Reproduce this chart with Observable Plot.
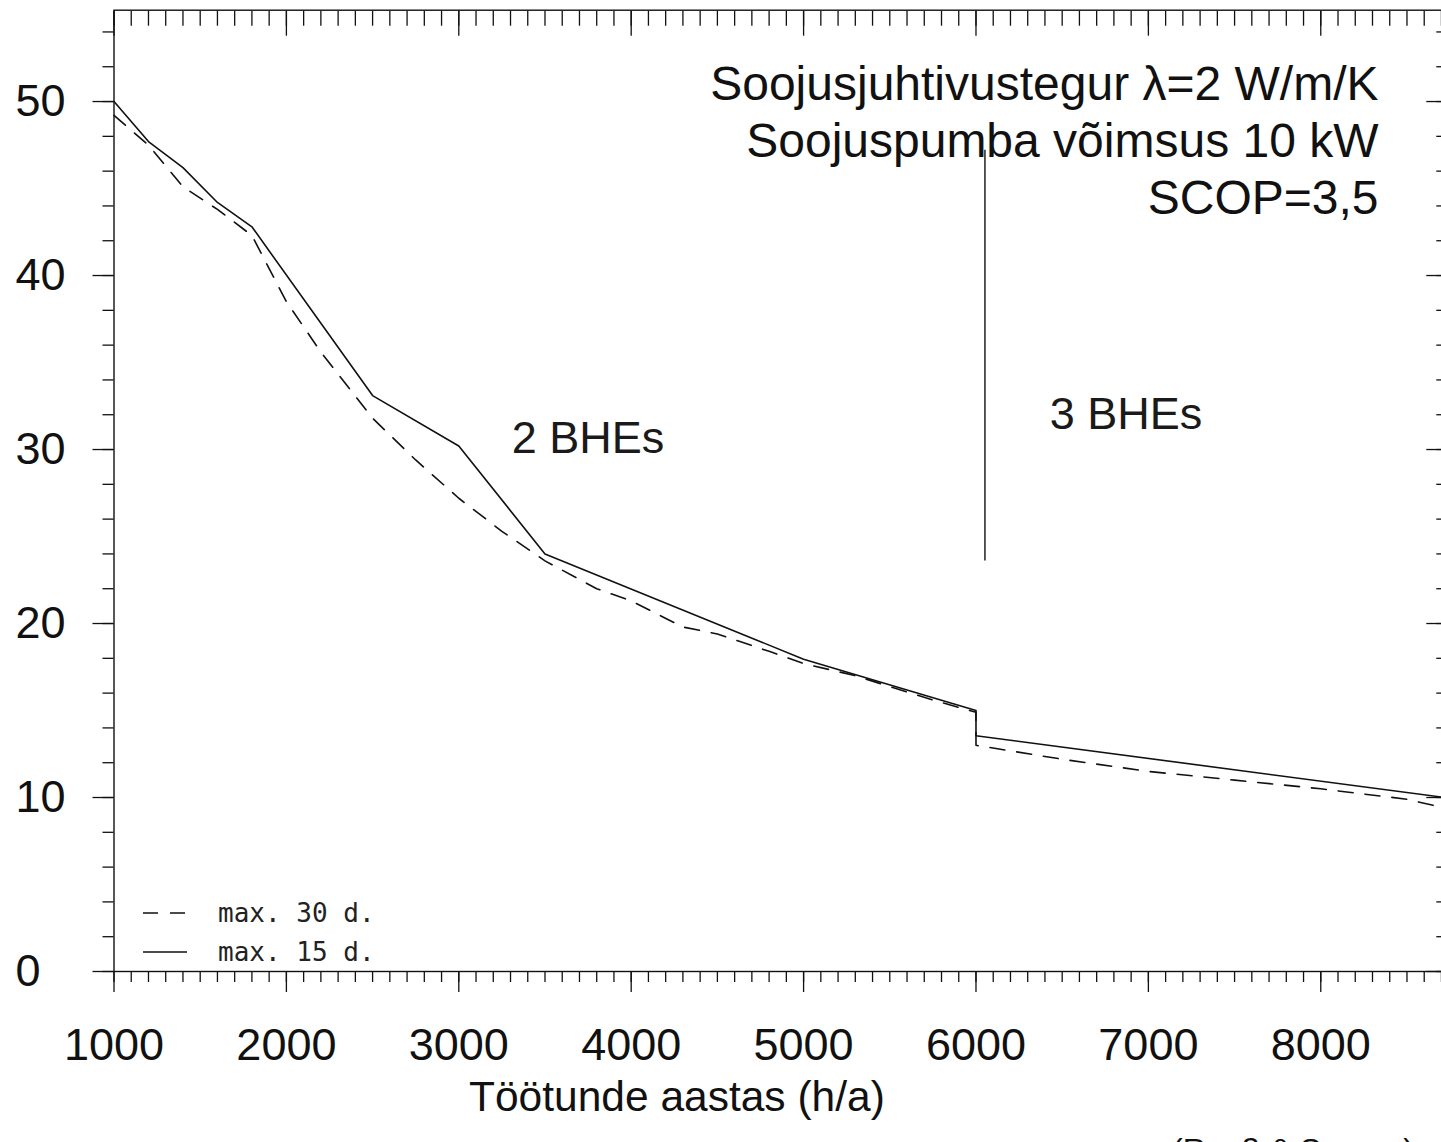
<!DOCTYPE html>
<html>
<head>
<meta charset="utf-8">
<script src="https://cdn.jsdelivr.net/npm/d3@7"></script>
<script src="https://cdn.jsdelivr.net/npm/@observablehq/plot@0.6"></script>
<style>
  html, body { margin: 0; padding: 0; background: #fff; overflow: hidden; }
  #wrap { position: relative; width: 1441px; height: 1142px; overflow: hidden; background: #fff; }
  #chart { position: absolute; left: 0; top: 0; width: 1460px; }
  #chart svg { max-width: none !important; }
  #legend { position: absolute; left: 0; top: 0; pointer-events: none; }
  #caption { position: absolute; left: 1172px; top: 1134px; font: 32px/32px "Liberation Sans", Arial, sans-serif; color: #111; white-space: nowrap; }
</style>
</head>
<body>
<div id="wrap">
  <div id="chart"></div>
  <svg id="legend" width="420" height="990"></svg>
  <div id="caption"></div>
</div>
<script>
// ---- data ----
const seriesNames = ["max. 30 d.", "max. 15 d."];

// solid line (max. 15 d.)
const hours15 = [1000, 1200, 1400, 1600, 1800, 2500, 3000, 3500, 5000, 6000, 6000, 8760];
const values15 = [50.0, 47.7, 46.2, 44.2, 42.8, 33.1, 30.2, 24.0, 17.95, 15.0, 13.55, 9.95];

// dashed line (max. 30 d.)
const hours30 = [1000, 1200, 1400, 1600, 1800, 2000, 2200, 2500, 2750, 3000, 3250, 3500, 3800, 4000, 4300, 4500, 4800, 5000, 5300, 5750, 6000, 6000, 6500, 7000, 7500, 8000, 8500, 8760];
const values30 = [49.2, 47.5, 45.1, 43.8, 42.3, 38.5, 35.6, 31.8, 29.4, 27.2, 25.3, 23.6, 22.0, 21.3, 19.8, 19.4, 18.4, 17.7, 17.0, 15.6, 14.9, 13.0, 12.2, 11.5, 11.0, 10.5, 9.9, 9.3];

// tick values
const xMajorTicks = [1000, 2000, 3000, 4000, 5000, 6000, 7000, 8000];
const xMinorTicks = d3.range(1000, 8761, 100);
const yMajorTicks = [0, 10, 20, 30, 40, 50];
const yMinorTicks = d3.range(0, 55.1, 2);

// annotations
const infoText = ["Soojusjuhtivustegur λ=2 W/m/K", "Soojuspumba võimsus 10 kW", "SCOP=3,5"];
const zoneLabels = ["2 BHEs", "3 BHEs"];
const zoneLabelHours = [3750, 6870];
const zoneLabelValues = [29.8, 31.2];
const dividerHour = [6052];
const dividerFrom = [47.2];
const dividerTo = [23.6];
const xTitle = "Töötunde aastas (h/a)";
const sourceText = "(Reuß & Sanner)";

// ---- build tables ----
const rows15 = hours15.map((h, i) => ({h, v: values15[i], s: seriesNames[1]}));
const rows30 = hours30.map((h, i) => ({h, v: values30[i], s: seriesNames[0]}));
const zones = zoneLabels.map((t, i) => ({t, h: zoneLabelHours[i], v: zoneLabelValues[i]}));
const dividers = dividerHour.map((h, i) => ({h, v1: dividerFrom[i], v2: dividerTo[i]}));

const font = "'Liberation Sans', Arial, Helvetica, sans-serif";
const ink = "#111";
const empty = () => "";

const chart = Plot.plot({
  width: 1460,
  height: 1135,
  marginLeft: 113.5,
  marginRight: 8.7,
  marginTop: 9.7,
  marginBottom: 164,
  style: {fontFamily: font, color: ink, background: "white", overflow: "visible", maxWidth: "none"},
  x: {domain: [1000, 8760]},
  y: {domain: [0, 55.25]},
  marks: [
    Plot.frame({stroke: ink, strokeWidth: 1.4}),
    // bottom axis
    Plot.axisX({anchor: "bottom", ticks: xMinorTicks, tickSize: 11, tickFormat: empty, label: null, strokeWidth: 1.3}),
    Plot.axisX({anchor: "bottom", ticks: xMajorTicks, tickSize: 21, tickPadding: 36, fontSize: 45, tickFormat: d => String(d), label: null, strokeWidth: 1.3}),
    // top axis (inward)
    Plot.axisX({anchor: "top", ticks: xMinorTicks, tickSize: -15, tickFormat: empty, label: null, strokeWidth: 1.3}),
    Plot.axisX({anchor: "top", ticks: xMajorTicks, tickSize: -25, tickFormat: empty, label: null, strokeWidth: 1.3}),
    // left axis
    Plot.axisY({anchor: "left", ticks: yMinorTicks, tickSize: 11, tickFormat: empty, label: null, strokeWidth: 1.3}),
    Plot.axisY({anchor: "left", ticks: yMajorTicks, tickSize: 21, tickPadding: 77.5, textAnchor: "start", fontSize: 45, tickFormat: d => String(d), label: null, strokeWidth: 1.3}),
    // right axis (inward)
    Plot.axisY({anchor: "right", ticks: yMinorTicks, tickSize: -16, tickFormat: empty, label: null, strokeWidth: 1.3}),
    Plot.axisY({anchor: "right", ticks: yMajorTicks, tickSize: -26, tickFormat: empty, label: null, strokeWidth: 1.3}),
    // x title
    Plot.text([xTitle], {frameAnchor: "bottom", lineAnchor: "bottom", dx: -106, dy: 139, fontSize: 42.5, fill: ink}),
    // data lines
    Plot.line(rows30, {x: "h", y: "v", stroke: ink, strokeWidth: 1.6, strokeDasharray: "15,12"}),
    Plot.line(rows15, {x: "h", y: "v", stroke: ink, strokeWidth: 1.6}),
    // divider
    Plot.ruleX(dividers, {x: "h", y1: "v1", y2: "v2", stroke: ink, strokeWidth: 1.4}),
    // zone labels
    Plot.text(zones, {x: "h", y: "v", text: "t", lineAnchor: "bottom", fontSize: 45, fill: "#1a1a1a"}),
    // parameter block
    Plot.text([infoText.join("\n")], {frameAnchor: "top-right", textAnchor: "end", lineAnchor: "top", dx: -73.3, dy: 49, fontSize: 48, lineHeight: 1.1875, fill: ink})
  ]
});
document.getElementById("chart").appendChild(chart);

// legend (scan-like, lower left)
const leg = d3.select("#legend");
const legendRows = [
  {name: seriesNames[0], dash: "15,12", y: 913},
  {name: seriesNames[1], dash: null, y: 952}
];
legendRows.forEach(r => {
  leg.append("line").attr("x1", 143).attr("x2", 187).attr("y1", r.y).attr("y2", r.y)
    .attr("stroke", ink).attr("stroke-width", 1.4).attr("stroke-dasharray", r.dash);
  leg.append("text").attr("x", 218).attr("y", r.y + 9).text(r.name)
    .attr("font-family", "'DejaVu Sans Mono', monospace").attr("font-size", 26).attr("fill", "#222");
});

document.getElementById("caption").textContent = sourceText;
</script>
</body>
</html>
